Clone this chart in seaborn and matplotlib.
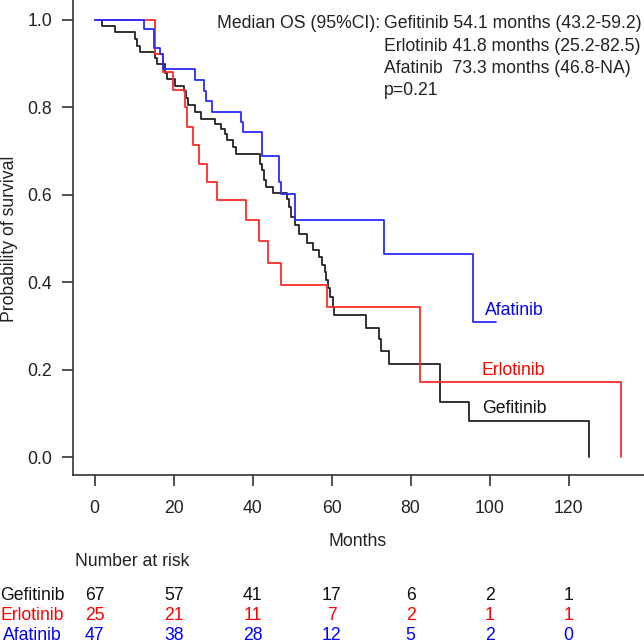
import pandas as pd
import seaborn as sns
import matplotlib.pyplot as plt
from matplotlib.transforms import blended_transform_factory

# Kaplan-Meier step values (months, survival probability)
gef_time = [0, 1.85, 5.2, 10.2, 10.8, 11.4, 15.3, 15.7, 17.8, 18.4, 20.3,
            22.5, 23.2, 23.6, 25.3, 27.0, 30.5, 32.1, 33.0, 33.4, 35.1, 35.8,
            41.9, 42.3, 42.9, 43.3, 45.1, 48.7, 49.3, 49.8, 50.6, 51.8,
            53.7, 55.3, 56.9, 57.5, 58.3, 58.6, 59.0, 59.7, 60.3, 60.6,
            68.7, 72.1, 72.6, 74.6, 87.4, 94.8, 125.1]
gef_surv = [1.0, 0.985, 0.971, 0.955, 0.940, 0.926, 0.913, 0.898, 0.879, 0.864, 0.849,
            0.836, 0.821, 0.806, 0.789, 0.774, 0.761, 0.750, 0.738, 0.725, 0.708, 0.692,
            0.671, 0.656, 0.633, 0.618, 0.604, 0.590, 0.572, 0.549, 0.530, 0.511,
            0.490, 0.473, 0.457, 0.440, 0.424, 0.405, 0.386, 0.366, 0.344, 0.325,
            0.296, 0.270, 0.243, 0.212, 0.126, 0.083, 0.0]

erl_time = [0, 15.3, 17.4, 19.9, 22.9, 23.4, 25.0, 26.5, 28.4, 31.0,
            38.3, 41.5, 43.9, 47.3, 58.8, 82.5, 133.4]
erl_surv = [1.0, 0.921, 0.880, 0.840, 0.800, 0.755, 0.713, 0.671, 0.628, 0.587,
            0.542, 0.494, 0.443, 0.394, 0.344, 0.171, 0.0]

afa_time = [0, 12.5, 15.0, 16.5, 17.4, 25.4, 27.7, 28.2, 29.6, 37.0, 37.6,
            42.4, 46.7, 47.1, 50.7, 73.2, 95.8, 101.5]
afa_surv = [1.0, 0.978, 0.936, 0.921, 0.887, 0.863, 0.838, 0.814, 0.789, 0.766, 0.744,
            0.689, 0.630, 0.601, 0.543, 0.464, 0.308, 0.308]

groups = ['Gefitinib', 'Erlotinib', 'Afatinib']
risk_times = [0, 20, 40, 60, 80, 100, 120]
risk_gef = [67, 57, 41, 17, 6, 2, 1]
risk_erl = [25, 21, 11, 7, 2, 1, 1]
risk_afa = [47, 38, 28, 12, 5, 2, 0]

median_lines = ['Gefitinib 54.1 months (43.2-59.2)',
                'Erlotinib 41.8 months (25.2-82.5)',
                'Afatinib  73.3 months (46.8-NA)',
                'p=0.21']

line_colors = {'Gefitinib': '#222222', 'Erlotinib': '#ff2a2a', 'Afatinib': '#2a2aff'}
text_colors = {'Gefitinib': '#111111', 'Erlotinib': '#ff0000', 'Afatinib': '#0000ff'}

df = pd.concat([
    pd.DataFrame({'Months': gef_time, 'Survival': gef_surv, 'Group': 'Gefitinib'}),
    pd.DataFrame({'Months': erl_time, 'Survival': erl_surv, 'Group': 'Erlotinib'}),
    pd.DataFrame({'Months': afa_time, 'Survival': afa_surv, 'Group': 'Afatinib'}),
], ignore_index=True)

sns.set_style('ticks')
plt.rcParams['font.family'] = ['Liberation Sans', 'DejaVu Sans']
FS = 12.7

W, H = 644, 643
fig = plt.figure(figsize=(W / 100, H / 100), dpi=100)
ax = fig.add_axes([73 / W, 1 - 475 / H, 1 - 73 / W, 475 / H])


def fx(x):
    return x / W


def fy(y):
    return 1 - y / H


sns.lineplot(data=df, x='Months', y='Survival', hue='Group', hue_order=groups,
             palette=line_colors, drawstyle='steps-post', estimator=None,
             sort=False, legend=False, linewidth=1.3, ax=ax)

ax.set_xlim(-5.5, 139.1)
ax.set_ylim(-0.041, 1.045)
ax.set_xticks(risk_times)
ax.set_yticks([0, 0.2, 0.4, 0.6, 0.8, 1.0])
ax.set_yticklabels(['0.0', '0.2', '0.4', '0.6', '0.8', '1.0'])
ax.set_xlabel('')
ax.set_ylabel('')
sns.despine(ax=ax)
for s in ['left', 'bottom']:
    ax.spines[s].set_linewidth(1.2)
    ax.spines[s].set_color('#333333')
ax.tick_params(axis='both', length=8, width=1.2, color='#333333',
               labelsize=FS, labelcolor='#222222')
ax.tick_params(axis='x', pad=10)
ax.tick_params(axis='y', pad=7)

fig.text(fx(358), fy(542), 'Months', ha='center', va='center', fontsize=FS, color='#222222')
fig.text(fx(10), fy(239), 'Probability of survival', rotation=90,
         ha='center', va='center', fontsize=FS, color='#222222')

# median OS annotation
fig.text(fx(380), fy(24), 'Median OS (95%CI):', ha='right', va='center', fontsize=FS, color='#222222')
for i, t in enumerate(median_lines):
    fig.text(fx(384), fy(24 + 22.3 * i), t, ha='left', va='center', fontsize=FS, color='#222222')

# curve labels
ax.text(98.8, 0.334, 'Afatinib', color=text_colors['Afatinib'], fontsize=FS, va='center')
ax.text(98.0, 0.199, 'Erlotinib', color=text_colors['Erlotinib'], fontsize=FS, va='center')
ax.text(98.0, 0.112, 'Gefitinib', color=text_colors['Gefitinib'], fontsize=FS, va='center')

# number at risk table
fig.text(fx(75), fy(562), 'Number at risk', ha='left', va='center', fontsize=FS, color='#222222')
trans = blended_transform_factory(ax.transData, fig.transFigure)
rows = [('Gefitinib', risk_gef, 595), ('Erlotinib', risk_erl, 615), ('Afatinib', risk_afa, 635)]
for name, counts, ypx in rows:
    fig.text(fx(32), fy(ypx), name, ha='center', va='center', fontsize=FS, color=text_colors[name])
    for t, n in zip(risk_times, counts):
        ax.text(t, fy(ypx), str(n), transform=trans, ha='center', va='center',
                fontsize=FS, color=text_colors[name], clip_on=False)

fig.savefig('out.png', dpi=100)
